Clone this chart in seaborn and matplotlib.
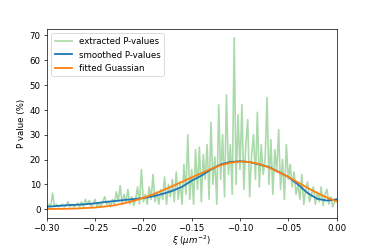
import numpy as np
import pandas as pd
import matplotlib
matplotlib.use("Agg")
import matplotlib.pyplot as plt
import seaborn as sns

# extracted P-values, one every 0.002 from -0.300 to 0.000
xi_raw = np.round(np.arange(-0.300, 0.0001, 0.002), 3)
p_raw = [
    1, 2, 1, 6.5, 1, 2, 1, 1.5, 2, 1,
    1.5, 3, 1, 2, 1, 1.5, 2.5, 1, 3, 1,
    4, 2, 3.5, 1, 2, 4, 1, 2.5, 1, 3,
    5, 2, 3, 1, 4, 2, 7, 3, 9.5, 2,
    6, 3, 8, 2, 5, 1.5, 4, 9, 2, 16,
    3, 6, 2, 9, 4, 14, 3, 7, 2, 8,
    4, 13, 2, 10, 5, 12, 3, 15, 4, 11,
    2, 18, 6, 30, 4, 16, 2, 24, 8, 25,
    3, 22, 12, 26, 4, 35, 10, 21, 2, 42,
    12, 30, 5, 46, 14, 26, 6, 69, 10, 38,
    16, 42, 8, 26, 36, 5, 22, 30, 12, 39,
    9, 26, 14, 20, 45, 10, 28, 6, 24, 15,
    32, 8, 20, 4, 26, 12, 18, 9, 15, 6,
    10, 4, 14, 2, 8, 11, 3, 6, 9, 2,
    7, 3, 9, 1.5, 6, 8, 2, 5, 1, 3,
    4,
]

# smoothed and fitted curves, one every 0.01
xi_fit = np.round(np.arange(-0.30, 0.0001, 0.01), 2)
p_smooth = [1.0, 1.3, 1.6, 1.8, 2.0, 2.4, 2.9, 3.3, 3.7, 4.1, 4.5,
            5.2, 6.2, 7.4, 9.0, 11.5, 13.5, 16.0, 18.0, 19.0, 19.3,
            19.0, 18.0, 17.0, 15.0, 13.0, 10.0, 6.5, 4.2, 3.5, 4.0]
p_gauss = [0.1, 0.15, 0.2, 0.3, 0.5, 0.7, 1.1, 1.6, 2.4, 3.4, 4.6,
           6.0, 7.6, 9.3, 11.0, 12.8, 14.5, 16.2, 17.7, 18.7, 19.2,
           19.0, 18.2, 16.8, 15.0, 13.0, 10.8, 8.6, 6.5, 4.7, 3.2]

raw = pd.DataFrame({"xi": xi_raw, "p": p_raw})
fit = pd.DataFrame({"xi": xi_fit, "smooth": p_smooth, "gauss": p_gauss})

dpi = 374 / 6
fig, ax = plt.subplots(figsize=(6, 4), dpi=dpi)
fig.subplots_adjust(left=0.125, right=0.9, top=0.882, bottom=0.126)
sns.lineplot(data=raw, x="xi", y="p", ax=ax, color="tab:green", alpha=0.4,
             lw=1.9, label="extracted P-values")
sns.lineplot(data=fit, x="xi", y="smooth", ax=ax, color="tab:blue",
             lw=2.1, label="smoothed P-values")
sns.lineplot(data=fit, x="xi", y="gauss", ax=ax, color="tab:orange",
             lw=2.1, label="fitted Guassian")

ax.set_xlim(-0.3, 0.0)
ax.set_xlabel(r"$\xi$ ($\mu m^{-2}$)", labelpad=1)
ax.set_ylabel("P value (%)")
ax.legend(loc="upper left")
fig.savefig("out.png", dpi=dpi)
